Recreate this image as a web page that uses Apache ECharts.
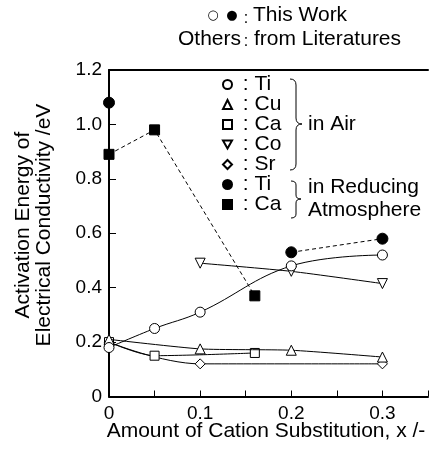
<!DOCTYPE html>
<html><head><meta charset="utf-8">
<script src="https://cdn.jsdelivr.net/npm/echarts@6/dist/echarts.min.js"></script>
<style>html,body{margin:0;padding:0;background:#fff}#c{width:431px;height:455px}</style>
</head><body><div id="c"></div>
<script>
// ---- data ----
const xTickLabels = ['0', '0.1', '0.2', '0.3'];
const yTickLabels = ['0', '0.2', '0.4', '0.6', '0.8', '1.0', '1.2'];
const tiAir = [[0, 0.18], [0.05, 0.25], [0.1, 0.31], [0.2, 0.48], [0.3, 0.52]];
const cuAir = [[0, 0.21], [0.1, 0.175], [0.2, 0.17], [0.3, 0.145]];
const caAir = [[0, 0.2], [0.05, 0.15], [0.16, 0.16]];
const coAir = [[0.1, 0.49], [0.2, 0.46], [0.3, 0.415]];
const srAir = [[0, 0.2], [0.1, 0.12], [0.3, 0.12]];
const tiRed = [[0, 1.08], [0.1, null], [0.2, 0.53], [0.3, 0.58]];
const caRed = [[0, 0.89], [0.05, 0.98], [0.16, 0.37]];
const seriesNames = ['Ti (air)', 'Cu (air)', 'Ca (air)', 'Co (air)', 'Sr (air)', 'Ti (reducing)', 'Ca (reducing)'];
const legendText = [' : Ti', ' : Cu', ' : Ca', ' : Co', ' : Sr', ' : Ti', ' : Ca'];

const FONT = 'Liberation Sans, Arial, Helvetica, sans-serif';
const chart = echarts.init(document.getElementById('c'), null, {renderer: 'canvas'});

function fmtTick(list) {
  return function (v) {
    for (const s of list) { if (Math.abs(parseFloat(s) - v) < 1e-6) return s; }
    return '';
  };
}
const openStyle = {color: '#fff', borderColor: '#000', borderWidth: 1};
const fillStyle = {color: '#000', borderColor: '#000', borderWidth: 1};
const solid = {color: '#000', width: 1};
const dashed = {color: '#000', width: 1, type: [4, 3]};

function mk(i, data, symbol, size, item, line, extra) {
  return Object.assign({
    name: seriesNames[i], type: 'line', data: data, symbol: symbol, symbolSize: size,
    itemStyle: item, lineStyle: line, showSymbol: true, showAllSymbol: true,
    connectNulls: false, animation: false, emphasis: {disabled: true}
  }, extra || {});
}

const legendIcons = ['circle', 'triangle', 'rect', 'path://M0,0L10,0L5,8.66Z', 'diamond', 'circle', 'rect'];

function brace(x0, xm, xt, yTop, yMid, yBot, r) {
  const st = {fill: 'none', stroke: '#000', lineWidth: 1};
  return [
    {type: 'bezierCurve', shape: {x1: x0, y1: yTop, x2: xm, y2: yTop + r, cpx1: xm, cpy1: yTop}, style: st},
    {type: 'line', shape: {x1: xm, y1: yTop + r, x2: xm, y2: yMid - r}, style: st},
    {type: 'bezierCurve', shape: {x1: xm, y1: yMid - r, x2: xt, y2: yMid, cpx1: xm, cpy1: yMid}, style: st},
    {type: 'bezierCurve', shape: {x1: xt, y1: yMid, x2: xm, y2: yMid + r, cpx1: xm, cpy1: yMid}, style: st},
    {type: 'line', shape: {x1: xm, y1: yMid + r, x2: xm, y2: yBot - r}, style: st},
    {type: 'bezierCurve', shape: {x1: xm, y1: yBot - r, x2: x0, y2: yBot, cpx1: xm, cpy1: yBot}, style: st}
  ];
}

const option = {
  backgroundColor: '#fff',
  textStyle: {fontFamily: FONT, color: '#000'},
  grid: {left: 109, right: -4, top: 70, bottom: 58.5, containLabel: false},
  xAxis: [{
    type: 'value', min: 0, max: 0.35, interval: 0.05,
    axisLine: {show: true, onZero: false, lineStyle: {color: '#000', width: 2}},
    axisTick: {show: true, inside: true, length: 6, lineStyle: {color: '#000', width: 1}},
    axisLabel: {formatter: fmtTick(xTickLabels), color: '#000', fontSize: 19, fontFamily: FONT, margin: 8},
    splitLine: {show: false}
  }, {
    type: 'value', min: 0, max: 0.35, position: 'top',
    axisLine: {show: true, onZero: false, lineStyle: {color: '#000', width: 2}},
    axisTick: {show: false}, axisLabel: {show: false}, splitLine: {show: false}
  }],
  yAxis: {
    type: 'value', min: 0, max: 1.2, interval: 0.2,
    axisLine: {show: true, onZero: false, lineStyle: {color: '#000', width: 2}},
    axisTick: {show: true, inside: true, length: 7, lineStyle: {color: '#000', width: 1}},
    axisLabel: {formatter: fmtTick(yTickLabels), color: '#000', fontSize: 19, fontFamily: FONT, margin: 7},
    splitLine: {show: false}
  },
  legend: {
    orient: 'vertical', left: 222, top: 74, itemWidth: 9, itemHeight: 9, itemGap: -1,
    selectedMode: false, padding: 0,
    textStyle: {fontSize: 21, fontFamily: FONT, color: '#000', lineHeight: 20},
    formatter: function (name) { return legendText[seriesNames.indexOf(name)]; },
    data: seriesNames.map((n, i) => ({name: n, icon: legendIcons[i]}))
  },
  series: [
    mk(4, srAir, 'diamond', 10, openStyle, solid, {smooth: 0.4, z: 2}),
    mk(2, caAir, 'rect', 9, openStyle, solid, {smooth: 0.3, z: 3}),
    mk(1, cuAir, 'triangle', 10, openStyle, solid, {smooth: 0.2, z: 4}),
    mk(3, coAir, 'triangle', 10, openStyle, solid, {smooth: 0.2, symbolRotate: 180, z: 4}),
    mk(0, tiAir, 'circle', 10, openStyle, solid, {smooth: 0.4, z: 5}),
    mk(5, tiRed, 'circle', 11, fillStyle, dashed, {z: 6}),
    mk(6, caRed, 'rect', 10, fillStyle, dashed, {z: 6})
  ],
  graphic: [
    {type: 'text', x: 34, y: 225, rotation: Math.PI / 2,
     style: {text: 'Activation Energy of\nElectrical Conductivity /eV', font: '21px ' + FONT, fill: '#000', align: 'center', verticalAlign: 'middle', lineHeight: 21}},
    {type: 'text', x: 266, y: 431,
     style: {text: 'Amount of Cation Substitution, x /-', font: '21px ' + FONT, fill: '#000', align: 'center', verticalAlign: 'middle'}},
    {type: 'text', x: 213, y: 16, style: {text: '○', font: '13px DejaVu Sans, ' + FONT, fill: '#000', align: 'center', verticalAlign: 'middle'}},
    {type: 'text', x: 232, y: 16, style: {text: '●', font: '13px DejaVu Sans, ' + FONT, fill: '#000', align: 'center', verticalAlign: 'middle'}},
    {type: 'text', x: 246, y: 19, style: {text: ':', font: '16px ' + FONT, fill: '#000', align: 'center', verticalAlign: 'middle'}},
    {type: 'text', x: 253, y: 15.5, style: {text: 'This Work', font: '21px ' + FONT, fill: '#000', align: 'left', verticalAlign: 'middle'}},
    {type: 'text', x: 241, y: 39, style: {text: 'Others', font: '21px ' + FONT, fill: '#000', align: 'right', verticalAlign: 'middle'}},
    {type: 'text', x: 246, y: 42, style: {text: ':', font: '16px ' + FONT, fill: '#000', align: 'center', verticalAlign: 'middle'}},
    {type: 'text', x: 254, y: 39, style: {text: 'from Literatures', font: '21px ' + FONT, fill: '#000', align: 'left', verticalAlign: 'middle'}},
    {type: 'text', x: 308, y: 124, style: {text: 'in Air', font: '21px ' + FONT, fill: '#000', align: 'left', verticalAlign: 'middle'}},
    {type: 'text', x: 308, y: 187, style: {text: 'in Reducing', font: '21px ' + FONT, fill: '#000', align: 'left', verticalAlign: 'middle'}},
    {type: 'text', x: 308, y: 210, style: {text: 'Atmosphere', font: '21px ' + FONT, fill: '#000', align: 'left', verticalAlign: 'middle'}}
  ].concat(brace(290, 296, 302, 79, 124, 170, 6)).concat(brace(291, 296, 301, 181, 199, 218, 4))
};
chart.setOption(option);
</script></body></html>
